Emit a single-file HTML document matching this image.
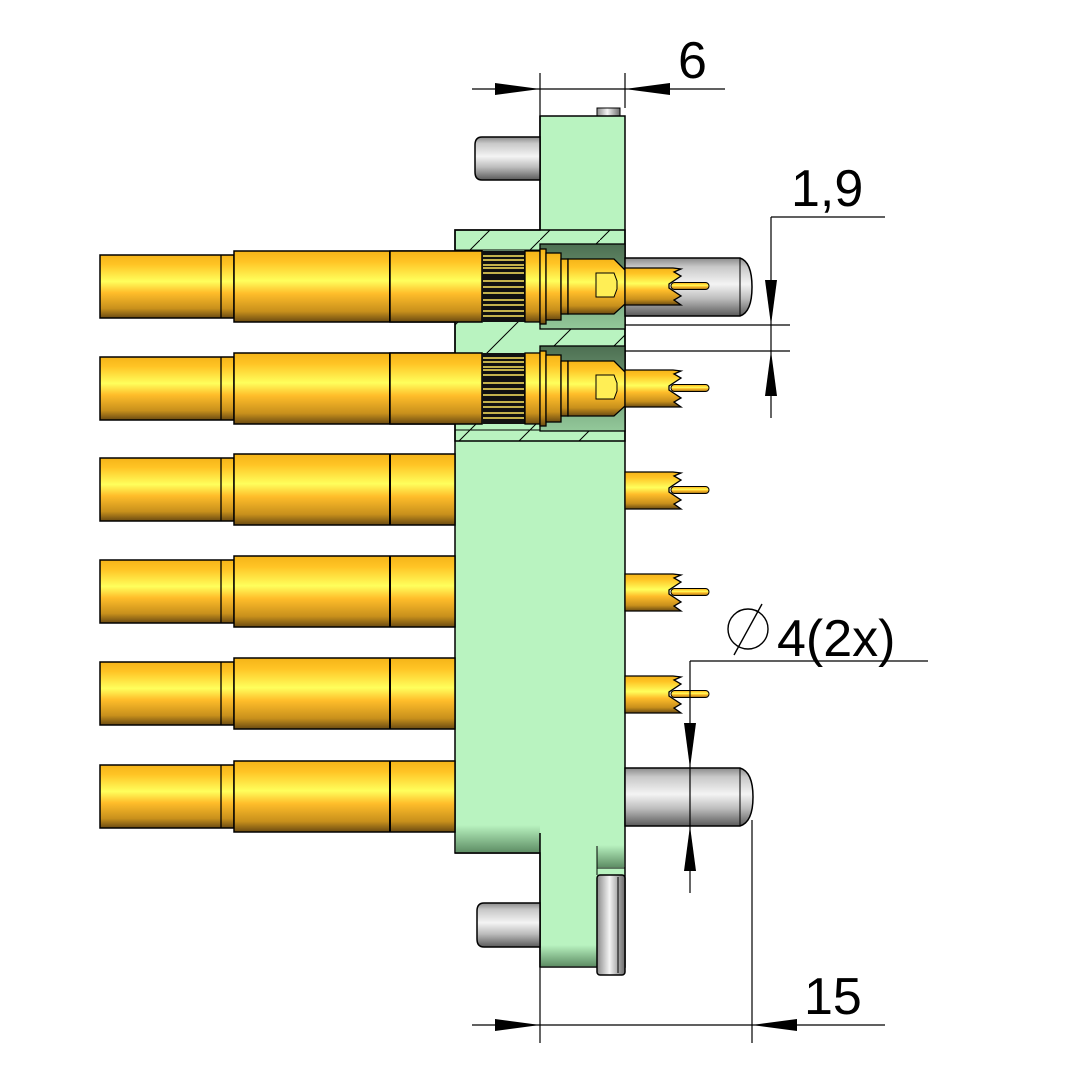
<!DOCTYPE html>
<html><head><meta charset="utf-8"><style>html,body{margin:0;padding:0;background:#fff}svg{display:block}</style></head>
<body>
<svg width="1082" height="1083" viewBox="0 0 1082 1083" xmlns="http://www.w3.org/2000/svg">
<defs>
<linearGradient id="g" x1="0" y1="0" x2="0" y2="1">
<stop offset="0" stop-color="#f5b418"/><stop offset="0.15" stop-color="#ffc425"/><stop offset="0.42" stop-color="#ffff5c"/><stop offset="0.6" stop-color="#ffbd2a"/><stop offset="0.85" stop-color="#c8901c"/><stop offset="1" stop-color="#6a4a12"/>
</linearGradient>
<linearGradient id="s" x1="0" y1="0" x2="0" y2="1">
<stop offset="0" stop-color="#8a8a8a"/><stop offset="0.15" stop-color="#c8c8c8"/><stop offset="0.45" stop-color="#f4f4f4"/><stop offset="0.7" stop-color="#bdbdbd"/><stop offset="1" stop-color="#5a5a5a"/>
</linearGradient>
<linearGradient id="sv" x1="0" y1="0" x2="1" y2="0">
<stop offset="0" stop-color="#8a8a8a"/><stop offset="0.45" stop-color="#f4f4f4"/><stop offset="1" stop-color="#6a6a6a"/>
</linearGradient>
<linearGradient id="gs" x1="0" y1="0" x2="0" y2="1">
<stop offset="0" stop-color="#b9f3c0"/><stop offset="1" stop-color="#5f8f66"/>
</linearGradient>
<linearGradient id="pk" x1="0" y1="0" x2="0" y2="1">
<stop offset="0" stop-color="#4d6f52"/><stop offset="1" stop-color="#93c99a"/>
</linearGradient>
<pattern id="hatch" width="60" height="60" patternUnits="userSpaceOnUse">
<line x1="0" y1="60" x2="60" y2="0" stroke="#000" stroke-width="1"/>
</pattern>
<g id="cont">
<path d="M0,-18 H48 L56,-17 L49,-14 L56,-10 L44,-2 L44,2 L56,10 L49,14 L56,19 H0 Z" fill="url(#g)" stroke="#000" stroke-width="1.3"/>
<rect x="46" y="-3.5" width="38" height="7" rx="3.5" fill="url(#g)" stroke="#000" stroke-width="1"/>
</g>
<g id="pinL">
<rect x="100" y="-32" width="134" height="63" fill="url(#g)" stroke="#000" stroke-width="1.5"/>
<line x1="221" y1="-32" x2="221" y2="31" stroke="#000" stroke-width="1.3"/>
<rect x="234" y="-36" width="221" height="71" fill="url(#g)" stroke="#000" stroke-width="1.5"/>
<line x1="390" y1="-36" x2="390" y2="35" stroke="#000" stroke-width="2"/>
</g>
</defs>

<rect x="597" y="108" width="23" height="10" fill="url(#sv)" stroke="#000"/>
<path d="M540,116 H625 V853 H625 V967 H540 V853 H455 V230 H540 Z" fill="#b9f3c0" stroke="#000" stroke-width="1.5"/>
<rect x="456" y="825" width="84" height="27" fill="url(#gs)"/>
<rect x="541" y="945" width="56" height="21" fill="url(#gs)"/>
<rect x="597" y="845" width="27" height="22" fill="url(#gs)"/>
<line x1="540" y1="833" x2="540" y2="967" stroke="#000" stroke-width="1.5"/>
<line x1="455" y1="853" x2="540" y2="853" stroke="#000" stroke-width="1.5"/>
<line x1="597" y1="846" x2="597" y2="875" stroke="#000"/>
<line x1="597" y1="868" x2="625" y2="868" stroke="#000"/>
<rect x="455" y="230" width="170" height="211" fill="url(#hatch)" stroke="#000" stroke-width="1.5"/>
<line x1="455" y1="250" x2="625" y2="250" stroke="#000"/>
<line x1="455" y1="430" x2="625" y2="430" stroke="#000"/>
<line x1="540" y1="116" x2="540" y2="230" stroke="#000" stroke-width="1.5"/>
<rect x="540" y="244" width="85" height="85" fill="url(#pk)" stroke="#000" stroke-width="1.3"/>
<rect x="540" y="346" width="85" height="85" fill="url(#pk)" stroke="#000" stroke-width="1.3"/>

<path d="M540,137 H482 Q475,137 475,145 V172 Q475,180 482,180 H540 Z" fill="url(#s)" stroke="#000" stroke-width="1.5"/>
<path d="M540,903 H484 Q477,903 477,911 V939 Q477,947 484,947 H540 Z" fill="url(#s)" stroke="#000" stroke-width="1.5"/>
<path d="M625,258 H740 Q752,262 752,287 Q752,312 740,316 H625 Z" fill="url(#s)" stroke="#000" stroke-width="1.5"/>
<line x1="740" y1="258" x2="740" y2="316" stroke="#000"/>
<path d="M625,768 H740 Q753,772 753,797 Q753,822 740,826 H625 Z" fill="url(#s)" stroke="#000" stroke-width="1.5"/>
<line x1="740" y1="768" x2="740" y2="826" stroke="#000"/>
<rect x="597" y="875" width="28" height="100" rx="3" fill="url(#sv)" stroke="#000" stroke-width="1.5"/>
<line x1="618" y1="877" x2="618" y2="973" stroke="#000"/>

<use href="#pinL" transform="translate(0,287)"/>
<use href="#pinL" transform="translate(0,389)"/>
<use href="#pinL" transform="translate(0,490)"/>
<use href="#pinL" transform="translate(0,592)"/>
<use href="#pinL" transform="translate(0,694)"/>
<use href="#pinL" transform="translate(0,797)"/>

<g id="sec1">
<rect x="390" y="251" width="92" height="71" fill="url(#g)" stroke="#000" stroke-width="1.5"/>
<rect x="482" y="251" width="43" height="71" fill="#111"/>
<g stroke="#ffe860" stroke-width="1.6">
<line x1="483" y1="256" x2="524" y2="256"/><line x1="483" y1="260" x2="524" y2="260"/><line x1="483" y1="265" x2="524" y2="265"/><line x1="483" y1="268" x2="524" y2="268"/><line x1="483" y1="273" x2="524" y2="273"/><line x1="483" y1="281" x2="524" y2="281"/><line x1="483" y1="287" x2="524" y2="287"/><line x1="483" y1="293" x2="524" y2="293"/><line x1="483" y1="300" x2="524" y2="300"/><line x1="483" y1="305" x2="524" y2="305"/><line x1="483" y1="311" x2="524" y2="311"/><line x1="483" y1="316" x2="524" y2="316"/>
</g>
<rect x="525" y="251" width="15" height="71" fill="url(#g)" stroke="#000" stroke-width="1.3"/>
<rect x="540" y="249" width="6" height="75" fill="url(#g)" stroke="#000" stroke-width="1.3"/>
<rect x="546" y="253" width="15" height="67" fill="url(#g)" stroke="#000" stroke-width="1.3"/>
<rect x="561" y="259" width="7" height="55" fill="url(#g)" stroke="#000" stroke-width="1.3"/>
<path d="M568,259 H614 L625,270 V304 L614,314 H568 Z" fill="url(#g)" stroke="#000" stroke-width="1.3"/>
<path d="M596,273 H614 L617,281 V289 L614,297 H596 Z" fill="#ffee55" stroke="#000"/>
<use href="#cont" transform="translate(625,286)"/>
</g>
<use href="#sec1" transform="translate(0,102)"/>

<use href="#cont" transform="translate(625,490)"/>
<use href="#cont" transform="translate(625,592)"/>
<use href="#cont" transform="translate(625,694)"/>

<g stroke="#000" stroke-width="1.2" fill="none">
<line x1="472" y1="89" x2="725" y2="89"/>
<line x1="540" y1="73" x2="540" y2="116"/>
<line x1="625" y1="73" x2="625" y2="108"/>
<line x1="771" y1="217" x2="885" y2="217"/>
<line x1="771" y1="217" x2="771" y2="418"/>
<line x1="625" y1="325" x2="790" y2="325"/>
<line x1="625" y1="351" x2="790" y2="351"/>
<line x1="690" y1="661" x2="928" y2="661"/>
<line x1="690" y1="661" x2="690" y2="893"/>
<line x1="472" y1="1025" x2="885" y2="1025"/>
<line x1="540" y1="967" x2="540" y2="1043"/>
<line x1="752" y1="820" x2="752" y2="1043"/>
</g>
<g fill="#000">
<polygon points="540,89 495,83 495,95"/>
<polygon points="625,89 670,83 670,95"/>
<polygon points="771,325 765,280 777,280"/>
<polygon points="771,351 765,396 777,396"/>
<polygon points="690,768 684,723 696,723"/>
<polygon points="690,826 684,871 696,871"/>
<polygon points="540,1025 495,1019 495,1031"/>
<polygon points="752,1025 797,1019 797,1031"/>
</g>
<g font-family="Liberation Sans, sans-serif" font-size="52" fill="#000">
<text x="678" y="78">6</text>
<text x="791" y="206">1,9</text>
<text x="777" y="656">4(2x)</text>
<text x="804" y="1014">15</text>
</g>
<circle cx="748" cy="629" r="20" fill="none" stroke="#000" stroke-width="1.4"/>
<line x1="734" y1="655" x2="762" y2="604" stroke="#000" stroke-width="1.4"/>
</svg>
</body></html>
